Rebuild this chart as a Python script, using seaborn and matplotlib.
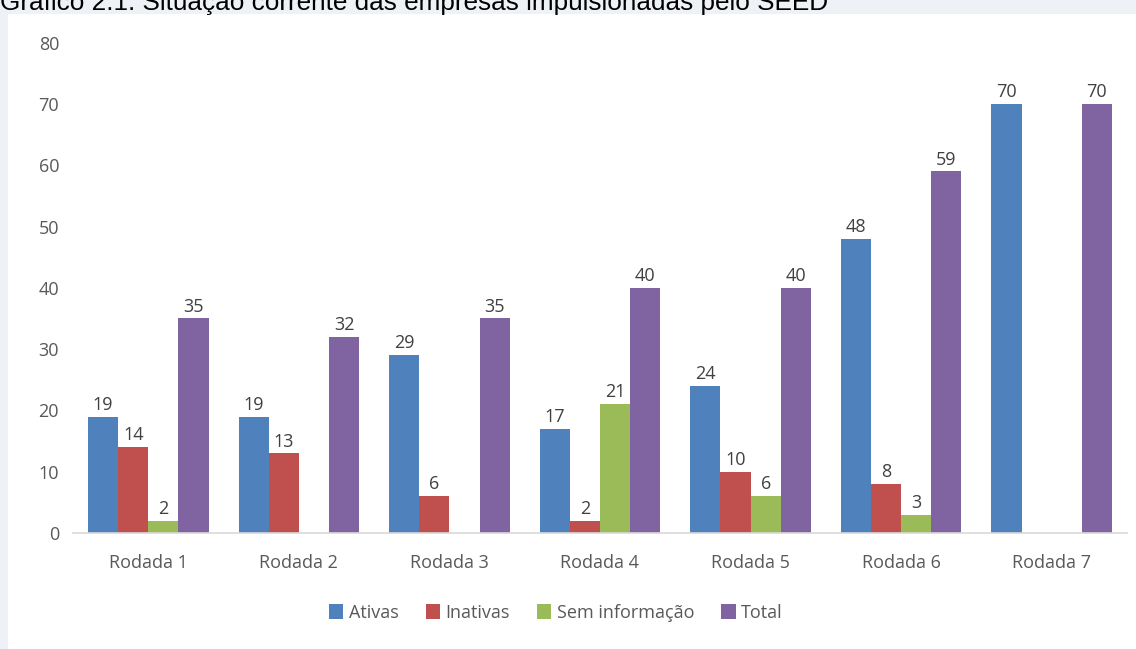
import matplotlib
matplotlib.use("Agg")
import matplotlib.pyplot as plt
from matplotlib.patches import Rectangle, Patch
import seaborn as sns
import pandas as pd

# Dados: situação das empresas por rodada
rodadas = ["Rodada 1", "Rodada 2", "Rodada 3", "Rodada 4", "Rodada 5", "Rodada 6", "Rodada 7"]
ativas = [19, 19, 29, 17, 24, 48, 70]
inativas = [14, 13, 6, 2, 10, 8, 0]
sem_informacao = [2, 0, 0, 21, 6, 3, 0]
total = [35, 32, 35, 40, 40, 59, 70]
series = ["Ativas", "Inativas", "Sem informação", "Total"]
cores = ["#4F81BD", "#C0504D", "#9BBB59", "#8064A2"]
yticks = [0, 10, 20, 30, 40, 50, 60, 70, 80]

df = pd.DataFrame({
    "Rodada": rodadas * 4,
    "Situação": [s for s in series for _ in rodadas],
    "Empresas": ativas + inativas + sem_informacao + total,
})

sns.set_theme(style="white")
plt.rcParams["font.family"] = ["Open Sans", "DejaVu Sans"]

W, H = 1136, 649
fig = plt.figure(figsize=(W / 100, H / 100), dpi=100, facecolor="#EEF2F6")

# painel branco do gráfico
fig.patches.append(Rectangle((8 / W, 0), 1 - 8 / W, (H - 14) / H,
                             transform=fig.transFigure, facecolor="white",
                             edgecolor="none", zorder=-10))

fig.text(0, 1 - 10 / H, "Gráfico 2.1: Situação corrente das empresas impulsionadas pelo SEED",
         fontsize=18.8, color="black", va="baseline", ha="left",
         family=["Liberation Sans", "DejaVu Sans"])

ax = fig.add_axes([73 / W, 116 / H, (1127 - 73) / W, (606.4 - 116) / H])
ax.set_facecolor("none")

sns.barplot(data=df, x="Rodada", y="Empresas", hue="Situação",
            order=rodadas, hue_order=series, palette=cores,
            width=0.8, saturation=1, linewidth=0, ax=ax, legend=False)

for cont, serie in zip(ax.containers, series):
    vals = df[df["Situação"] == serie]["Empresas"].tolist()
    ax.bar_label(cont, labels=[str(v) if v > 0 else "" for v in vals],
                 padding=2, fontsize=13, color="#404040")

ax.set_ylim(0, 80)
ax.set_yticks(yticks)
ax.set_xlim(-0.5, len(rodadas) - 0.5)
ax.set_xlabel("")
ax.set_ylabel("")
for s in ["top", "right", "left"]:
    ax.spines[s].set_visible(False)
ax.spines["bottom"].set_color("#D9D9D9")
ax.spines["bottom"].set_linewidth(1.2)
ax.tick_params(axis="both", length=0, labelsize=13, labelcolor="#595959")
ax.tick_params(axis="x", pad=15)
ax.tick_params(axis="y", pad=10)

handles = [Patch(facecolor=c, edgecolor="none") for c in cores]
fig.legend(handles, series, loc="center", bbox_to_anchor=(556 / W, 36 / H),
           ncol=4, frameon=False, fontsize=13, labelcolor="#595959",
           handlelength=0.8, handleheight=0.9, handletextpad=0.3, columnspacing=1.5)

fig.savefig("out.png", dpi=100, facecolor=fig.get_facecolor())
